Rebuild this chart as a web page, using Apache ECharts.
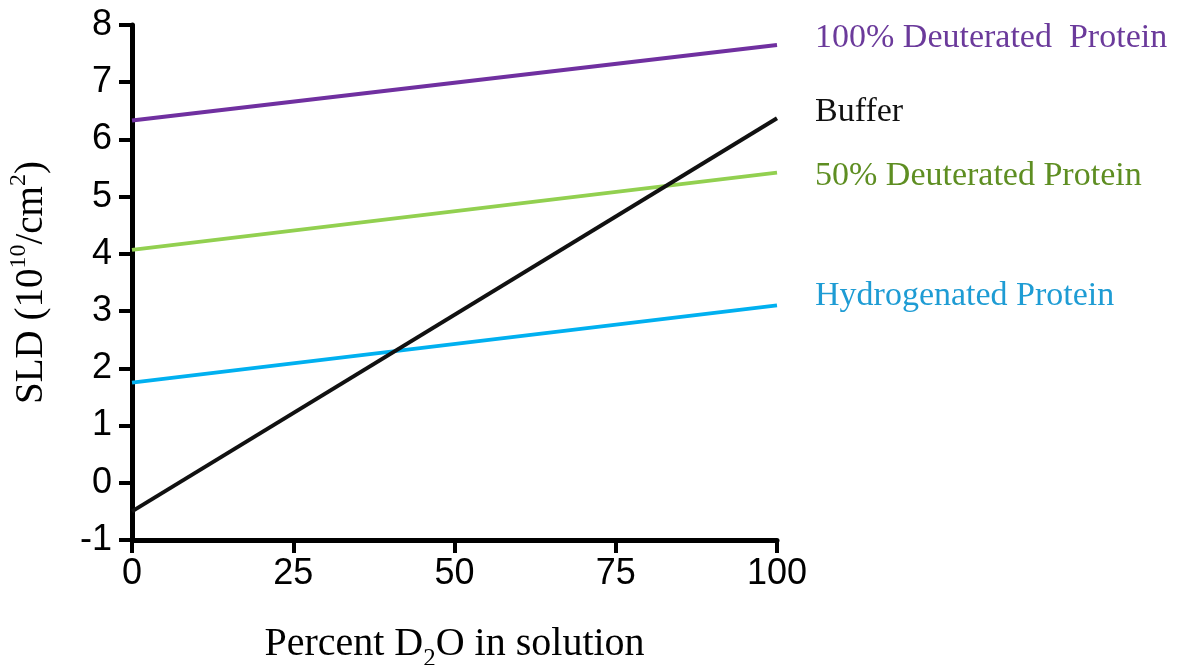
<!DOCTYPE html>
<html><head><meta charset="utf-8">
<script src="https://cdn.jsdelivr.net/npm/echarts@6/dist/echarts.min.js"></script>
<style>html,body{margin:0;padding:0;background:#fff}#c{width:1180px;height:665px}</style>
</head><body><div id="c"></div>
<script>
const xPercent = [0, 100];
const seriesNames = ['100% Deuterated  Protein', 'Buffer', '50% Deuterated Protein', 'Hydrogenated Protein'];
const deut100 = [6.33, 7.65];
const buffer = [-0.5, 6.37];
const deut50 = [4.07, 5.42];
const hydro = [1.75, 3.1];
const lineColors = ['#7030A0', '#111111', '#92D050', '#00B0F0'];
const labelColors = ['#6B3A9B', '#111111', '#5E8E22', '#1E9CD4'];
const yTicks = [-1, 0, 1, 2, 3, 4, 5, 6, 7, 8];
const xTicks = [0, 25, 50, 75, 100];

const allValues = [deut100, buffer, deut50, hydro];
const chart = echarts.init(document.getElementById('c'));
chart.setOption({
  animation: false,
  backgroundColor: '#fff',
  grid: {left: 132, right: 403, top: 25, bottom: 125, containLabel: false, outerBoundsMode: 'none'},
  xAxis: {
    type: 'value', min: xTicks[0], max: xTicks[xTicks.length-1], interval: 25,
    axisLine: {show: true, onZero: false, lineStyle: {color: '#000', width: 5}},
    axisTick: {show: true, length: 13, lineStyle: {color: '#000', width: 4}},
    axisLabel: {fontFamily: 'Liberation Sans', fontSize: 36, color: '#000', margin: 16},
    splitLine: {show: false},
    name: '{n|Percent D}{s|2}{n|O in solution}',
    nameLocation: 'middle', nameGap: 80,
    nameTextStyle: {
      rich: {
        n: {fontFamily: 'Liberation Serif', fontSize: 40, color: '#000', lineHeight: 44, verticalAlign: 'bottom'},
        s: {fontFamily: 'Liberation Serif', fontSize: 25, color: '#000', lineHeight: 44, verticalAlign: 'bottom', padding: [0, 0, -8, 0]}
      }
    }
  },
  yAxis: {
    type: 'value', min: yTicks[0], max: yTicks[yTicks.length-1], interval: 1,
    axisLine: {show: true, onZero: false, lineStyle: {color: '#000', width: 5}},
    axisTick: {show: true, length: 13, lineStyle: {color: '#000', width: 4}},
    axisLabel: {fontFamily: 'Liberation Sans', fontSize: 36, color: '#000', margin: 20},
    splitLine: {show: false},
    name: '{n|SLD (10}{p|10}{n|/cm}{p|2}{n|)}',
    nameLocation: 'middle', nameGap: 81, nameRotate: 90,
    nameTextStyle: {
      rich: {
        n: {fontFamily: 'Liberation Serif', fontSize: 39, color: '#000', lineHeight: 44, verticalAlign: 'bottom'},
        p: {fontFamily: 'Liberation Serif', fontSize: 24, color: '#000', lineHeight: 44, verticalAlign: 'top', padding: [0, 0, 10, 0]}
      }
    }
  },
  series: allValues.map((vals, i) => ({
    name: seriesNames[i],
    type: 'line',
    data: xPercent.map((x, j) => [x, vals[j]]),
    showSymbol: false,
    symbol: 'none',
    lineStyle: {color: lineColors[i], width: 4},
    itemStyle: {color: lineColors[i]},
    endLabel: {
      show: true, formatter: '{a}', distance: 38,
      fontFamily: 'Liberation Serif', fontSize: 34, color: labelColors[i],
      offset: [0, [-7, -6, 3, -9][i]]
    },
    z: [2, 5, 3, 4][i]
  }))
});
</script></body></html>
